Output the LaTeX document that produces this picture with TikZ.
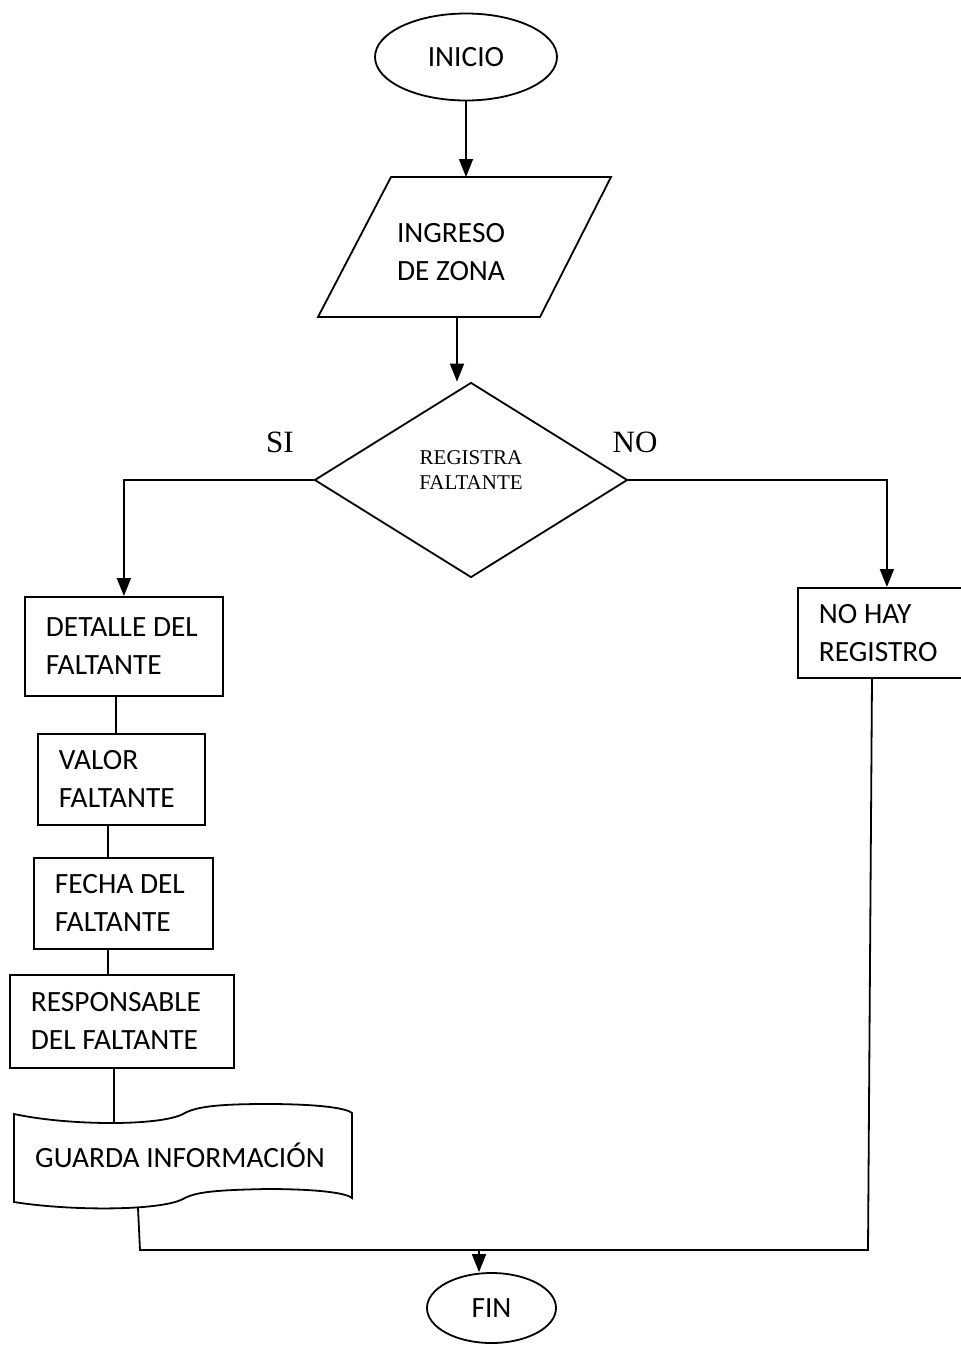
\documentclass[tikz,border=0pt]{standalone}
\usepackage{fontspec}
\setmainfont{Carlito}
\newfontfamily\timesfont{Liberation Serif}
\usetikzlibrary{shapes.geometric,arrows.meta}
\tikzset{
    flow/.style={line width=0.9pt},
    arr/.style={flow,-{Triangle[width=7pt,length=9pt]}},
    txt/.style={font=\fontsize{14.7}{19}\selectfont},
    terminal/.style={draw,ellipse,flow,txt,inner sep=0pt},
    box/.style={draw,rectangle,flow,txt,anchor=north west,align=flush left,
        inner xsep=10.5pt,inner ysep=0pt},
    decision/.style={draw,diamond,flow,inner sep=0pt,aspect=1.6,align=center,
        text depth=10pt,font=\timesfont\fontsize{10.5}{12.5}\selectfont},
    answer/.style={font=\timesfont\fontsize{15.5}{18}\selectfont}
}

\begin{document}
\begin{tikzpicture}[x=0.5pt,y=-0.5pt]
  \useasboundingbox (0,0) rectangle (961,1345);
  % Draw start and input
  \node[terminal,minimum width=91pt,minimum height=43.5pt] (inicio) at (466,57) {INICIO};
  \draw[flow] (391,177) -- (611,177) -- (540,317) -- (318,317) -- cycle;
  \node[txt,align=center] (ingreso) at (451,252) {INGRESO\\DE ZONA};
  \coordinate (ingtop) at (466,177);
  \coordinate (ingbot) at (457,317);
  \draw[arr] (inicio) -- (ingtop);
  % Draw decision
  \node[decision,minimum width=156.5pt,minimum height=97.5pt] (registra) at (471,480)
        {REGISTRA\\FALTANTE};
  \draw[arr] (ingbot) -- (ingbot |- registra.north);
  \node[answer] (si) at (280,442) {SI};
  \node[answer] (no) at (635,442) {NO};
  % Draw SI branch
  \node[box,text width=78pt,minimum height=49.5pt] (detalle) at (24,596) {DETALLE DEL\\FALTANTE};
  \node[box,text width=62.5pt,minimum height=45.5pt] (valor) at (37,733) {VALOR\\FALTANTE};
  \node[box,text width=68.5pt,minimum height=45.5pt] (fecha) at (33,857) {FECHA DEL\\FALTANTE};
  \node[box,text width=91pt,minimum height=46.5pt] (responsable) at (9,974) {RESPONSABLE\\DEL FALTANTE};
  \draw[arr] (registra.west) -| (detalle.north);
  \draw[flow] (116,0 |- detalle.south) -- (116,0 |- valor.north);
  \draw[flow] (108,0 |- valor.south) -- (108,0 |- fecha.north);
  \draw[flow] (108,0 |- fecha.south) -- (108,0 |- responsable.north);
  % Draw stored document
  \draw[flow] (14,1114) .. controls (70,1126) and (160,1126) .. (183,1114)
        .. controls (195,1107) and (215,1104) .. (267,1104)
        .. controls (310,1104) and (345,1107) .. (352,1113) -- (352,1198)
        .. controls (345,1192) and (310,1189) .. (267,1189)
        .. controls (215,1190) and (195,1192) .. (183,1199)
        .. controls (160,1211) and (70,1211) .. (14,1202) -- cycle;
  \node[txt] (guarda) at (180,1155) {GUARDA INFORMACIÓN};
  \coordinate (guardatop) at (114,1123);
  \coordinate (guardabot) at (138,1208);
  \draw[flow] (114,0 |- responsable.south) -- (guardatop);
  % Draw NO branch
  \node[box,text width=68pt,minimum height=45pt] (noreg) at (797,587) {NO HAY\\REGISTRO};
  \draw[arr] (registra.east) -| (noreg.north);
  % Draw join and end
  \node[terminal,minimum width=64.5pt,minimum height=35pt] (fin) at (491.5,1308) {FIN};
  \coordinate (junta) at (479,1250);
  \draw[flow] (guardabot) -- (140,1250) -- (868,1250) -- (872,0 |- noreg.south);
  \draw[arr] (junta) -- (junta |- fin.north);
\end{tikzpicture}
\end{document}
